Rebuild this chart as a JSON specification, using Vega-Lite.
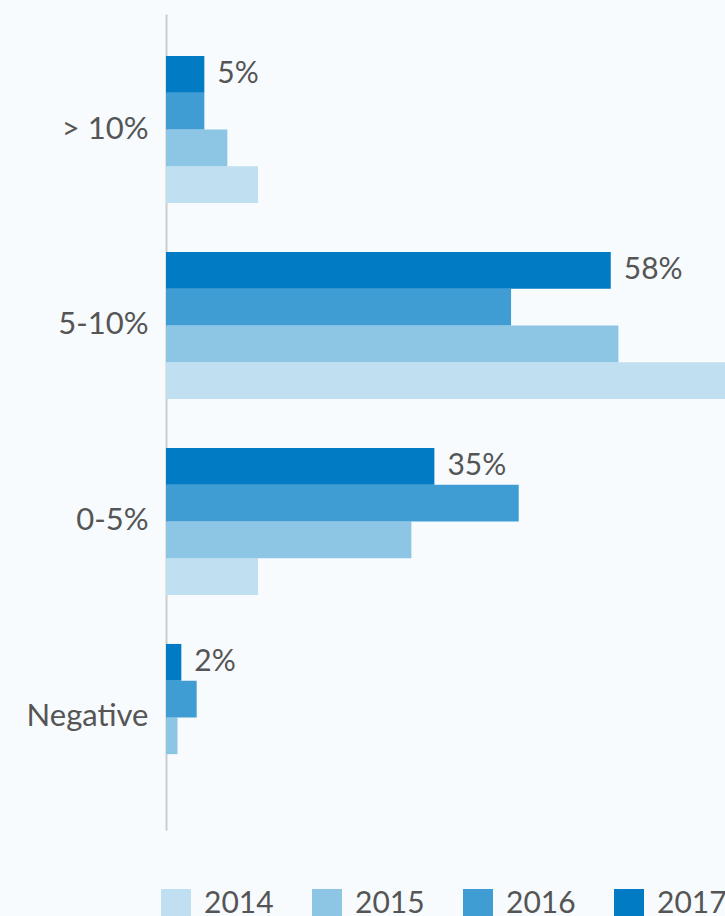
{
  "$schema": "https://vega.github.io/schema/vega-lite/v6.json",
  "width": 559,
  "height": 816,
  "autosize": {"type": "none"},
  "padding": {"left": 166, "top": 14, "right": 0, "bottom": 86},
  "background": "#f7fbfe",
  "config": {
    "view": {"stroke": null},
    "font": "Lato",
    "text": {"font": "Lato"}
  },
  "data": {
    "values": [
      {"category": "> 10%", "year": "2014", "value": 12},
      {"category": "> 10%", "year": "2015", "value": 8},
      {"category": "> 10%", "year": "2016", "value": 5},
      {"category": "> 10%", "year": "2017", "value": 5},
      {"category": "5-10%", "year": "2014", "value": 76},
      {"category": "5-10%", "year": "2015", "value": 59},
      {"category": "5-10%", "year": "2016", "value": 45},
      {"category": "5-10%", "year": "2017", "value": 58},
      {"category": "0-5%", "year": "2014", "value": 12},
      {"category": "0-5%", "year": "2015", "value": 32},
      {"category": "0-5%", "year": "2016", "value": 46},
      {"category": "0-5%", "year": "2017", "value": 35},
      {"category": "Negative", "year": "2014", "value": 0},
      {"category": "Negative", "year": "2015", "value": 1.5},
      {"category": "Negative", "year": "2016", "value": 4},
      {"category": "Negative", "year": "2017", "value": 2}
    ]
  },
  "encoding": {
    "y": {
      "field": "category",
      "type": "nominal",
      "sort": ["> 10%", "5-10%", "0-5%", "Negative"],
      "scale": {"paddingInner": 0.25, "paddingOuter": 0.207, "align": 0.518},
      "axis": {
        "title": null,
        "ticks": false,
        "labelFontSize": 31,
        "labelColor": "#555555",
        "labelPadding": 18,
        "labelFont": "Lato",
        "domainColor": "#cccccc",
        "domainWidth": 2,
        "grid": false
      }
    },
    "yOffset": {
      "field": "year",
      "type": "nominal",
      "sort": ["2017", "2016", "2015", "2014"],
      "scale": {"paddingInner": 0, "paddingOuter": 0}
    },
    "x": {
      "field": "value",
      "type": "quantitative",
      "scale": {"domain": [0, 72.9], "nice": false},
      "axis": null
    }
  },
  "layer": [
    {
      "mark": {"type": "bar", "clip": true},
      "encoding": {
        "color": {
          "field": "year",
          "type": "nominal",
          "sort": ["2014", "2015", "2016", "2017"],
          "scale": {
            "domain": ["2014", "2015", "2016", "2017"],
            "range": ["#c0dff0", "#8dc5e5", "#409dd3", "#007bc4"]
          },
          "legend": {
            "title": null,
            "orient": "none",
            "direction": "horizontal",
            "legendX": -5,
            "legendY": 875,
            "symbolType": "square",
            "symbolSize": 900,
            "symbolStrokeWidth": 0,
            "symbolOpacity": 1,
            "labelFontSize": 30,
            "labelColor": "#555555",
            "labelFont": "Lato",
            "labelOffset": 13,
            "columnPadding": 38
          }
        }
      }
    },
    {
      "transform": [
        {"filter": "datum.year == '2017'"},
        {"calculate": "format(datum.value, '.0f') + '%'", "as": "label"}
      ],
      "mark": {
        "type": "text",
        "align": "left",
        "baseline": "middle",
        "dx": 13,
        "fontSize": 30,
        "font": "Lato"
      },
      "encoding": {
        "text": {"field": "label", "type": "nominal"},
        "color": {"value": "#555555"}
      }
    }
  ]
}
